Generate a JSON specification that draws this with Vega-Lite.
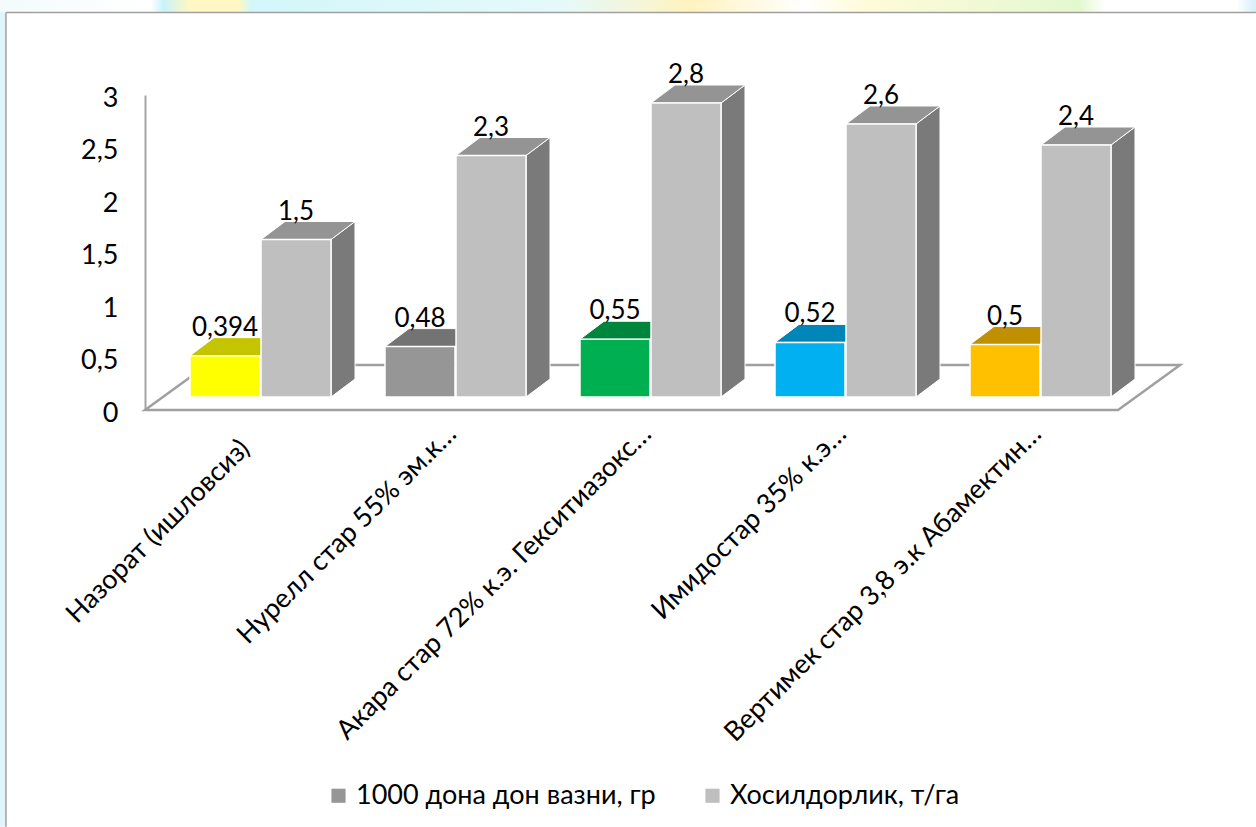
{"$schema":"https://vega.github.io/schema/vega-lite/v6.json","width":1035,"height":315,"autosize":{"type":"none"},"padding":{"left":145,"top":95,"right":76,"bottom":417},"background":"white","config":{"view":{"stroke":null},"font":"Lato","text":{"font":"Lato"}},"datasets":{"bars":[{"category":"Назорат (ишловсиз)","series":"1000 дона дон вазни, гр","value":0.394},{"category":"Назорат (ишловсиз)","series":"Хосилдорлик, т/га","value":1.5},{"category":"Нурелл стар 55% эм.к…","series":"1000 дона дон вазни, гр","value":0.48},{"category":"Нурелл стар 55% эм.к…","series":"Хосилдорлик, т/га","value":2.3},{"category":"Акара стар 72% к.э. Гекситиазокс…","series":"1000 дона дон вазни, гр","value":0.55},{"category":"Акара стар 72% к.э. Гекситиазокс…","series":"Хосилдорлик, т/га","value":2.8},{"category":"Имидостар 35% к.э…","series":"1000 дона дон вазни, гр","value":0.52},{"category":"Имидостар 35% к.э…","series":"Хосилдорлик, т/га","value":2.6},{"category":"Вертимек стар 3,8 э.к Абамектин…","series":"1000 дона дон вазни, гр","value":0.5},{"category":"Вертимек стар 3,8 э.к Абамектин…","series":"Хосилдорлик, т/га","value":2.4}],"floor":[{"along":0.318,"rise":0.4286,"step":1},{"along":0,"rise":0,"step":2},{"along":4.99,"rise":0,"step":3},{"along":5.308,"rise":0.4286,"step":4},{"along":0.318,"rise":0.4286,"step":5}]},"data":{"name":"bars"},"transform":[{"calculate":"indexof(['Назорат (ишловсиз)','Нурелл стар 55% эм.к…','Акара стар 72% к.э. Гекситиазокс…','Имидостар 35% к.э…','Вертимек стар 3,8 э.к Абамектин…'],datum.category)","as":"idx"},{"calculate":"datum.series==='Хосилдорлик, т/га'","as":"isB"},{"calculate":"datum.idx+(datum.isB?0.595:0.2308)","as":"x0"},{"calculate":"datum.x0+0.359","as":"x1"},{"calculate":"datum.value+0.1238","as":"top"},{"calculate":"replace(''+datum.value,'.',',')","as":"label"},{"calculate":"[0,1]","as":"depth"},{"flatten":["depth"]},{"calculate":"datum.x0+datum.depth*0.123","as":"tx0"},{"calculate":"datum.x1+datum.depth*0.123","as":"tx1"},{"calculate":"datum.top+datum.depth*0.1714","as":"ty"},{"calculate":"0.1238+datum.depth*0.1714","as":"by"}],"layer":[{"data":{"values":[{}]},"transform":[],"mark":{"type":"rect","fill":{"gradient":"linear","x1":0,"x2":1,"y1":0,"y2":0,"stops":[{"offset":0,"color":"#f3fbfd"},{"offset":0.12,"color":"#ffffff"},{"offset":0.13,"color":"#c9f3fa"},{"offset":0.15,"color":"#fff7c4"},{"offset":0.19,"color":"#fff7c4"},{"offset":0.2,"color":"#d2f7fa"},{"offset":0.45,"color":"#e6f9fa"},{"offset":0.55,"color":"#fff3c0"},{"offset":0.64,"color":"#ffffff"},{"offset":0.69,"color":"#fffbd8"},{"offset":0.86,"color":"#e4f8d0"},{"offset":0.88,"color":"#ffffff"},{"offset":0.985,"color":"#ffffff"},{"offset":1,"color":"#d5eefa"}]}},"encoding":{"x":{"datum":-0.7436,"type":"quantitative","scale":{"domain":[0,5.3077],"nice":false,"zero":false},"axis":null},"x2":{"datum":5.697},"y":{"datum":3.905,"type":"quantitative","scale":{"domain":[0,3],"nice":false,"zero":false},"axis":{"values":[0,0.5,1,1.5,2,2.5,3],"format":"~g","grid":false,"ticks":false,"title":null,"domainColor":"#a6a6a6","domainWidth":2,"labelFontSize":27,"labelColor":"#000000","labelFont":"Lato","labelPadding":27,"labelOffset":3,"labelExpr":"replace(datum.label,'.',',')"}},"y2":{"datum":3.786}}},{"data":{"values":[{}]},"transform":[],"mark":{"type":"rect","fill":"#e2f4fb"},"encoding":{"x":{"datum":-0.7436,"type":"quantitative"},"x2":{"datum":-0.713},"y":{"datum":3.79,"type":"quantitative"},"y2":{"datum":-3.97}}},{"data":{"values":[{}]},"transform":[],"mark":{"type":"rule","color":"#a0a0a0","strokeWidth":1.5},"encoding":{"x":{"datum":-0.713,"type":"quantitative"},"x2":{"datum":5.697},"y":{"datum":3.786,"type":"quantitative"}}},{"data":{"values":[{}]},"transform":[],"mark":{"type":"rule","color":"#a0a0a0","strokeWidth":1.5},"encoding":{"x":{"datum":-0.713,"type":"quantitative"},"y":{"datum":3.786,"type":"quantitative"},"y2":{"datum":-3.97}}},{"data":{"name":"floor"},"transform":[],"mark":{"type":"line","color":"#a0a0a0","strokeWidth":2.5,"strokeJoin":"miter"},"encoding":{"x":{"field":"along","type":"quantitative"},"y":{"field":"rise","type":"quantitative"},"order":{"field":"step"}}},{"transform":[{"filter":"!datum.isB"}],"mark":{"type":"area","orient":"horizontal","stroke":"white","strokeWidth":1},"encoding":{"y":{"field":"ty","type":"quantitative"},"x":{"field":"tx0","type":"quantitative"},"x2":{"field":"tx1"},"detail":{"field":"category"},"fill":{"field":"category","type":"nominal","legend":null,"scale":{"domain":["Назорат (ишловсиз)","Нурелл стар 55% эм.к…","Акара стар 72% к.э. Гекситиазокс…","Имидостар 35% к.э…","Вертимек стар 3,8 э.к Абамектин…"],"range":["#c4c400","#737373","#00853c","#0085b8","#c09000"]}}}},{"transform":[{"filter":"!datum.isB && datum.depth===0"}],"mark":{"type":"rect","stroke":"white","strokeWidth":1.5},"encoding":{"x":{"field":"x0","type":"quantitative"},"x2":{"field":"x1"},"y":{"field":"top","type":"quantitative"},"y2":{"datum":0.1238},"fill":{"field":"category","type":"nominal","legend":null,"scale":{"domain":["Назорат (ишловсиз)","Нурелл стар 55% эм.к…","Акара стар 72% к.э. Гекситиазокс…","Имидостар 35% к.э…","Вертимек стар 3,8 э.к Абамектин…"],"range":["#ffff00","#969696","#00b050","#00b0f0","#ffc000"]}}}},{"transform":[{"filter":"datum.isB"}],"mark":{"type":"area","stroke":"white","strokeWidth":1,"fill":"#7a7a7a"},"encoding":{"x":{"field":"tx1","type":"quantitative"},"y":{"field":"ty","type":"quantitative"},"y2":{"field":"by"},"detail":{"field":"category"}}},{"transform":[{"filter":"datum.isB"}],"mark":{"type":"area","orient":"horizontal","stroke":"white","strokeWidth":1,"fill":"#949494"},"encoding":{"y":{"field":"ty","type":"quantitative"},"x":{"field":"tx0","type":"quantitative"},"x2":{"field":"tx1"},"detail":{"field":"category"}}},{"transform":[{"filter":"datum.isB && datum.depth===0"}],"mark":{"type":"rect","stroke":"white","strokeWidth":1.5},"encoding":{"x":{"field":"x0","type":"quantitative"},"x2":{"field":"x1"},"y":{"field":"top","type":"quantitative"},"y2":{"datum":0.1238},"fill":{"field":"series","type":"nominal","scale":{"domain":["1000 дона дон вазни, гр","Хосилдорлик, т/га"],"range":["#969696","#bfbfbf"]},"legend":{"orient":"none","legendX":180,"legendY":687,"direction":"horizontal","title":null,"symbolType":"square","symbolSize":200,"symbolStrokeWidth":0,"labelFontSize":27,"labelFont":"Lato","labelColor":"#000000","columns":2,"columnPadding":43,"labelOffset":4,"labelLimit":400}}}},{"transform":[{"filter":"datum.depth===1"},{"calculate":"(datum.x0+datum.x1)/2","as":"cx"}],"mark":{"type":"text","fontSize":26,"font":"Lato","color":"#000000","align":"center","baseline":"alphabetic","dy":-2},"encoding":{"x":{"field":"cx","type":"quantitative"},"y":{"field":"ty","type":"quantitative"},"text":{"field":"label"}}},{"transform":[{"filter":"datum.depth===0 && !datum.isB"},{"calculate":"datum.idx+(datum.idx===0?0.515:0.575)","as":"lx"},{"calculate":"datum.idx===0?-0.33:-0.19","as":"ly"}],"mark":{"type":"text","fontSize":27,"font":"Lato","color":"#000000","align":"right","baseline":"middle","angle":315},"encoding":{"x":{"field":"lx","type":"quantitative"},"y":{"field":"ly","type":"quantitative"},"text":{"field":"category"}}}],"resolve":{"scale":{"fill":"independent"}}}
